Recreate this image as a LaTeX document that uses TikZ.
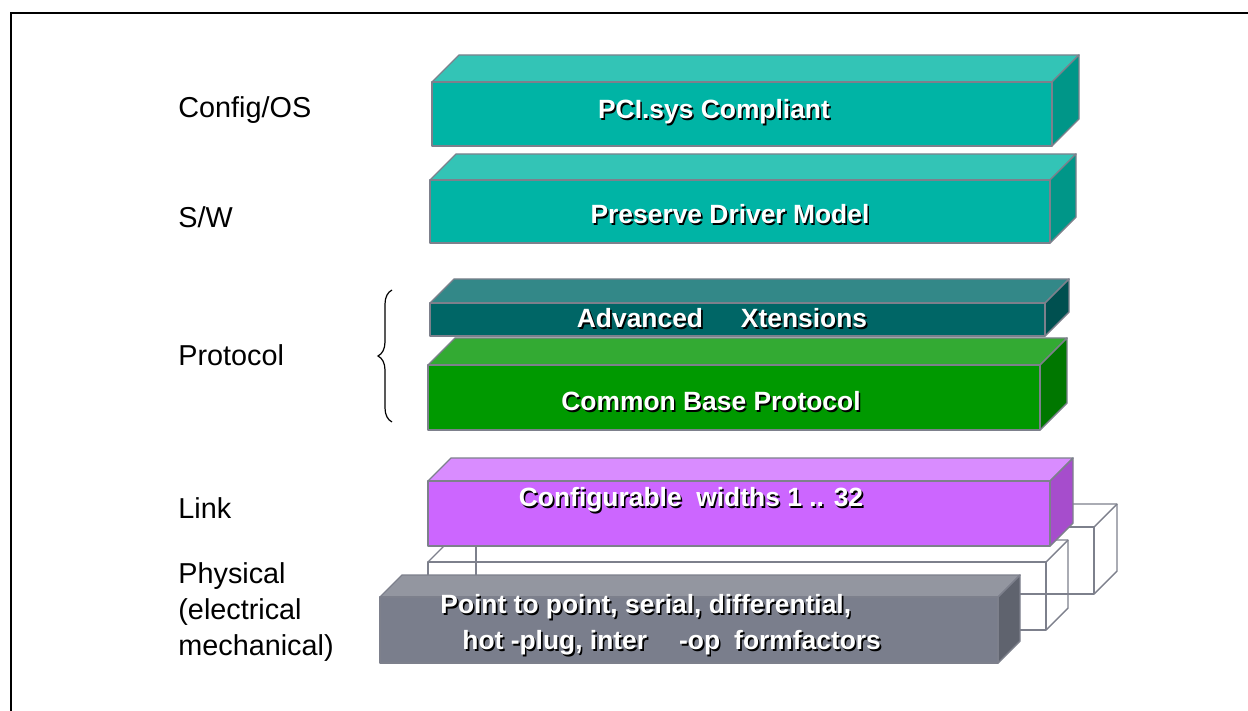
\documentclass[tikz,border=0pt]{standalone}
\usepackage{fontspec}
\setmainfont{Liberation Sans}
\usetikzlibrary{decorations.pathreplacing,calc}
\definecolor{tealtop}{RGB}{51,196,182}
\definecolor{tealfront}{RGB}{0,180,165}
\definecolor{tealside}{RGB}{0,150,136}
\definecolor{darktop}{RGB}{51,136,136}
\definecolor{darkfront}{RGB}{0,102,102}
\definecolor{darkside}{RGB}{0,80,80}
\definecolor{greentop}{RGB}{51,170,51}
\definecolor{greenfront}{RGB}{0,153,0}
\definecolor{greenside}{RGB}{0,119,0}
\definecolor{purpletop}{RGB}{217,140,255}
\definecolor{purplefront}{RGB}{204,102,255}
\definecolor{purpleside}{RGB}{166,77,204}
\definecolor{greytop}{RGB}{147,150,160}
\definecolor{greyfront}{RGB}{122,126,140}
\definecolor{greyside}{RGB}{95,99,110}
\definecolor{edgegrey}{RGB}{125,128,140}
\tikzset{
    edge/.style = {draw=edgegrey, line width=0.7pt, line join=round},
    wire/.style = {draw=edgegrey, line width=0.7pt, line join=round},
    layer/.style = {anchor=west, align=left, inner sep=0pt,
        font=\fontsize{14.4}{17.8}\selectfont},
    boxtext/.style = {inner sep=0pt, text=white,
        font=\bfseries\fontsize{13.2}{16}\selectfont},
    boxshade/.style = {boxtext, text=black, xshift=0.8pt, yshift=-0.8pt}
}
% solid slab: front corners, depth, colour prefix
\newcommand{\slab}[6]{%
    \filldraw[edge, fill=#6top] (#1,#2) -- (#1+#5,#2-#5) -- (#3+#5,#2-#5) -- (#3,#2) -- cycle;
    \filldraw[edge, fill=#6side] (#3,#2) -- (#3+#5,#2-#5) -- (#3+#5,#4-#5) -- (#3,#4) -- cycle;
    \filldraw[edge, fill=#6front] (#1,#2) rectangle (#3,#4);
}
% see-through slab
\newcommand{\wireslab}[5]{%
    \draw[wire] (#1,#2) -- (#1+#5,#2-#5) -- (#3+#5,#2-#5) -- (#3+#5,#4-#5) -- (#3,#4);
    \draw[wire] (#1,#2) rectangle (#3,#4);
    \draw[wire] (#3,#2) -- (#3+#5,#2-#5);
}
\newcommand{\shtext}[4][]{%
    \node[boxshade,#1] at (#3) {#4};
    \node[boxtext,#1] (#2) at (#3) {#4};
}

\begin{document}
\begin{tikzpicture}[x=0.5pt, y=-0.5pt]
    \useasboundingbox (0,0) rectangle (1248,711);
    \draw[line width=1pt] (11,711) -- (11,13) -- (1248,13);

    % layer names
    \node[layer] (cfg) at (178,110) {Config/OS};
    \node[layer] (sw) at (178,217) {S/W};
    \node[layer] (proto) at (178,355) {Protocol};
    \node[layer] (link) at (178,508) {Link};
    \node[layer] (phys) at (178,612) {Physical\\(electrical\\mechanical)};
    \draw[decorate, decoration={brace, amplitude=7pt}, line width=0.6pt] (392,422) -- (392,290);

    % stack
    \slab{432}{82}{1052}{146}{27}{teal}
    \shtext{pci}{714,112}{PCI.sys Compliant}
    \slab{430}{180}{1050}{243}{26}{teal}
    \shtext{drv}{730,214}{Preserve Driver Model}
    \slab{430}{303}{1045}{336}{24}{dark}
    \shtext{adv}{640,318}{Advanced}
    \shtext{xt}{804,318}{Xtensions}
    \slab{428}{365}{1040}{430}{27}{green}
    \shtext{cbp}{711,401}{Common Base Protocol}

    \wireslab{476}{527}{1094}{594}{23}
    \wireslab{428}{562}{1046}{630}{22}
    \slab{428}{481}{1050}{546}{23}{purple}
    \shtext{wid}{691,500}{Configurable\ \ widths 1 .. 32}
    \slab{380}{597}{998}{663}{22}{grey}
    \shtext[anchor=west]{pp}{440,607}{Point to point, serial, differential,}
    \shtext[anchor=west]{hp}{462,643}{hot -plug, inter\hspace{16pt}-op\hspace{7pt}formfactors}
\end{tikzpicture}
\end{document}
